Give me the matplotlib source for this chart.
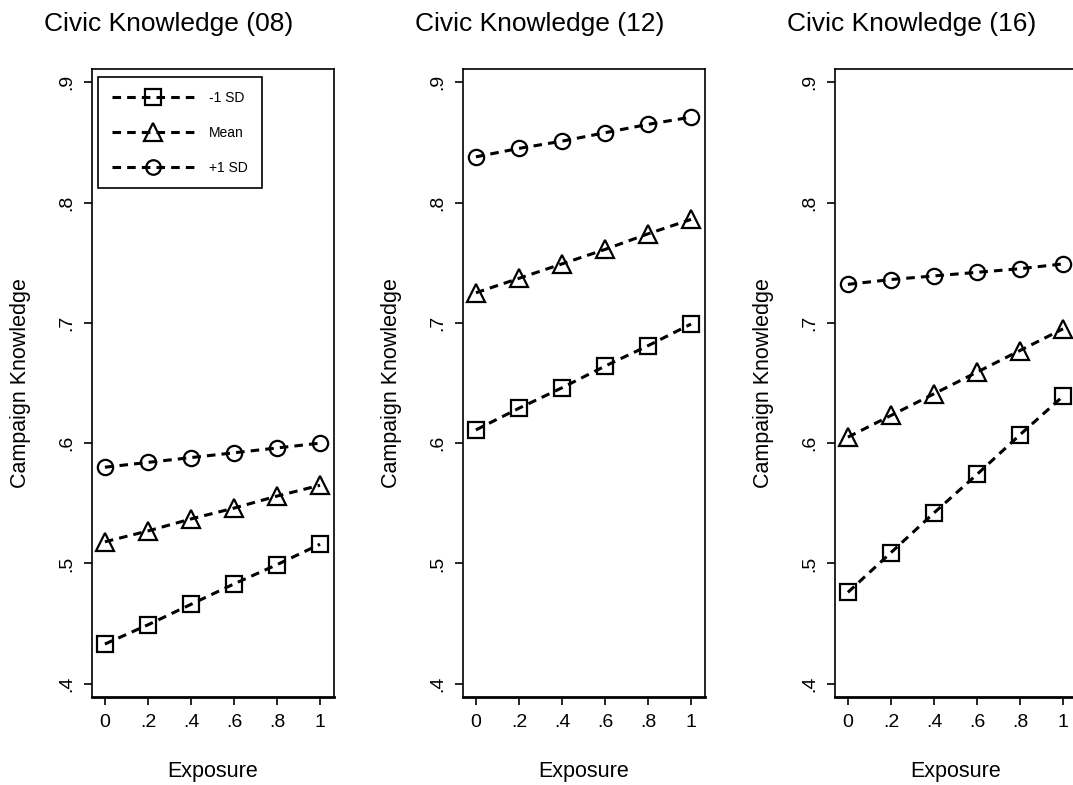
import matplotlib
matplotlib.use("Agg")
import matplotlib.pyplot as plt

plt.rcParams["font.family"] = ["Liberation Sans", "DejaVu Sans"]

exposure = [0, 0.2, 0.4, 0.6, 0.8, 1.0]
x_tick_labels = ["0", ".2", ".4", ".6", ".8", "1"]
y_ticks = [0.4, 0.5, 0.6, 0.7, 0.8, 0.9]
y_tick_labels = [".4", ".5", ".6", ".7", ".8", ".9"]

panel_titles = ["Civic Knowledge (08)", "Civic Knowledge (12)", "Civic Knowledge (16)"]
series_labels = ["-1 SD", "Mean", "+1 SD"]

# predicted campaign knowledge by civic knowledge level
low_08 = [0.433, 0.449, 0.466, 0.483, 0.499, 0.516]
mean_08 = [0.518, 0.527, 0.537, 0.546, 0.556, 0.565]
high_08 = [0.580, 0.584, 0.588, 0.592, 0.596, 0.600]

low_12 = [0.611, 0.629, 0.646, 0.664, 0.681, 0.699]
mean_12 = [0.725, 0.737, 0.749, 0.761, 0.774, 0.786]
high_12 = [0.838, 0.845, 0.851, 0.858, 0.865, 0.871]

low_16 = [0.476, 0.509, 0.542, 0.574, 0.607, 0.639]
mean_16 = [0.605, 0.623, 0.641, 0.659, 0.677, 0.695]
high_16 = [0.732, 0.736, 0.739, 0.742, 0.745, 0.749]

panels = [
    (low_08, mean_08, high_08),
    (low_12, mean_12, high_12),
    (low_16, mean_16, high_16),
]

W, H = 1073, 785
fig = plt.figure(figsize=(W / 100, H / 100), dpi=100)

ax_lefts = [92, 463, 835]
title_centers = [169, 540, 912]
ax_w, ax_top, ax_bottom = 242, 69, 697

markers = [("s", 12), ("^", 13), ("o", 11)]

for i, (series, left) in enumerate(zip(panels, ax_lefts)):
    ax = fig.add_axes([left / W, (H - ax_bottom) / H, ax_w / W, (ax_bottom - ax_top) / H])
    for vals, (mk, ms), lab in zip(series, markers, series_labels):
        ax.plot(exposure, vals, color="black", linestyle=(0, (2.8, 2.0)), linewidth=2.2,
                marker=mk, markersize=ms, markerfacecolor="none", markeredgecolor="black",
                markeredgewidth=1.6, label=lab)
    ax.set_xlim(-0.06, 1.065)
    ax.set_ylim(0.389, 0.911)
    ax.set_xticks(exposure)
    ax.set_xticklabels(x_tick_labels, fontsize=14)
    ax.set_yticks(y_ticks)
    ax.set_yticklabels(y_tick_labels, fontsize=14, rotation=90, va="center")
    ax.tick_params(direction="out", length=6, width=1.2, pad=6)
    for sp in ax.spines.values():
        sp.set_linewidth(1.2)
    ax.spines["bottom"].set_linewidth(2.0)
    ax.set_xlabel("Exposure", fontsize=15.5, labelpad=22)
    ax.set_ylabel("Campaign Knowledge", fontsize=15.5, labelpad=20)
    fig.text(title_centers[i] / W, 1 - 24 / H, panel_titles[i], fontsize=19,
             ha="center", va="center")
    if i == 0:
        leg = ax.legend(loc="upper left", bbox_to_anchor=(6 / ax_w, 1 - 8 / (ax_bottom - ax_top)),
                        borderaxespad=0, fontsize=10, handlelength=5.9, labelspacing=1.5,
                        borderpad=1.0, handletextpad=1.1, fancybox=False, framealpha=1,
                        markerscale=0.95)
        leg.get_frame().set_edgecolor("black")
        leg.get_frame().set_linewidth(1.2)

fig.savefig("out.png", dpi=100)
